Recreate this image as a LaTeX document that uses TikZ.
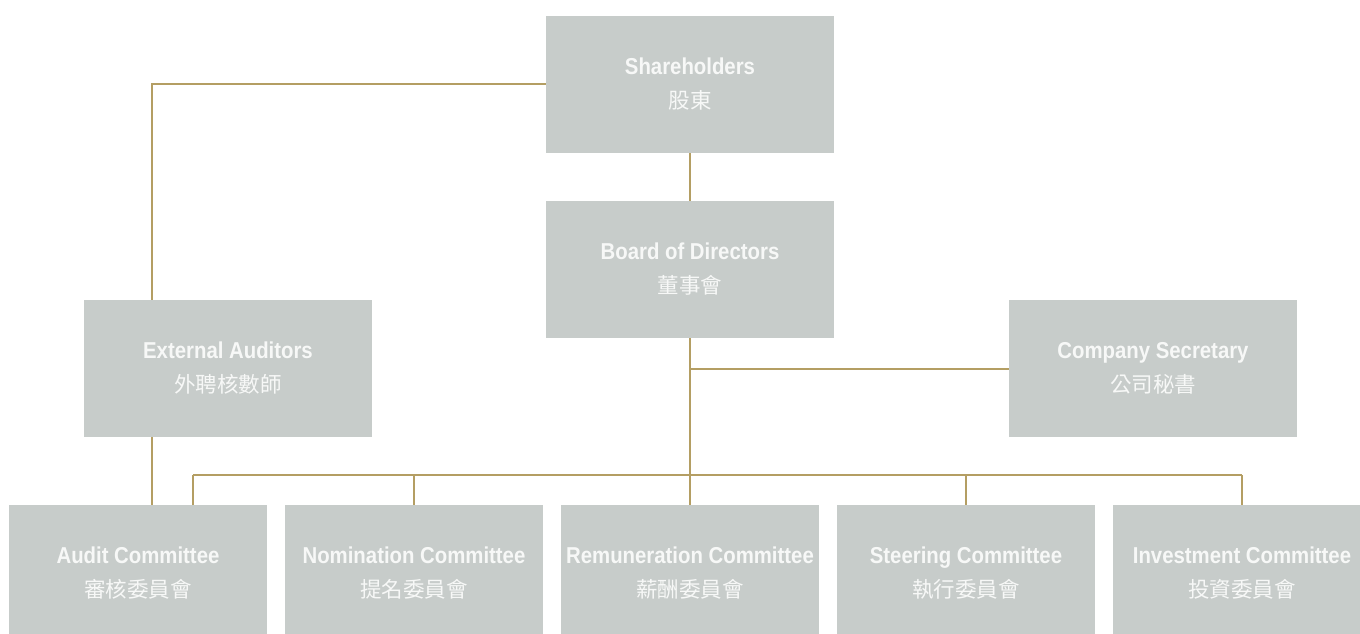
\documentclass[tikz,border=0pt]{standalone}
\usepackage{fontspec}
\setmainfont{Liberation Sans}[FakeStretch=0.885]
\newfontfamily\zhfont{Noto Sans CJK TC}
\definecolor{boxfill}{HTML}{C7CCCA}
\definecolor{gold}{HTML}{B49E63}
\definecolor{txt}{HTML}{F7F8F7}
\begin{document}
\begin{tikzpicture}[x=1pt,y=-1pt,
  orgbox/.style={fill=boxfill, draw=none, minimum width=288pt, minimum height=137pt,
    inner sep=0pt, align=center, text=txt, font=\fontsize{23}{35}\selectfont},
  combox/.style={orgbox, minimum width=258pt},
  conn/.style={draw=gold, line width=2pt}]
\useasboundingbox (0,0) rectangle (1360,633);
\clip (0,0) rectangle (1360,633);
\newcommand{\twoline}[2]{\raisebox{-1.5pt}{\begin{tabular}{@{}c@{}}\textbf{#1}\\[-1pt]{\zhfont\fontsize{21.5}{21.5}\selectfont #2}\end{tabular}}}
% boxes
\node[orgbox] (sh)  at (690,84.5)  {\twoline{Shareholders}{股東}};
\node[orgbox] (bd)  at (690,269.5) {\twoline{Board of Directors}{董事會}};
\node[orgbox] (ext) at (228,368.5) {\twoline{External Auditors}{外聘核數師}};
\node[orgbox] (sec) at (1153,368.5) {\twoline{Company Secretary}{公司秘書}};
\node[combox] (aud) at (138,573.5)  {\twoline{Audit Committee}{審核委員會}};
\node[combox] (nom) at (414,573.5)  {\twoline{Nomination Committee}{提名委員會}};
\node[combox] (rem) at (690,573.5)  {\twoline{Remuneration Committee}{薪酬委員會}};
\node[combox] (ste) at (966,573.5)  {\twoline{Steering Committee}{執行委員會}};
\node[combox] (inv) at (1242,573.5) {\twoline{Investment Committee}{投資委員會}};
% helper coordinates
\coordinate (shl) at ([yshift=0.5pt]sh.west);
\coordinate (extt) at ([xshift=68pt]ext.north west);
\coordinate (extb) at ([xshift=68pt]ext.south west);
\coordinate (bus) at (690,475);
\coordinate (busl) at (193,475);
\coordinate (busr) at (1242,475);
% connectors
\path[conn] (shl) -| (extt);
\path[conn] (extb) -- (extb |- aud.north);
\path[conn] (sh.south) -- (bd.north);
\path[conn] (bd.south) -- (bus);
\path[conn] (bd.south |- sec.west) -- (sec.west);
\path[conn] (busl) -- (busr);
\path[conn] (busl) -- (busl |- aud.north);
\path[conn] (bus -| nom.north) -- (nom.north);
\path[conn] (bus) -- (rem.north);
\path[conn] (bus -| ste.north) -- (ste.north);
\path[conn] (busr) -- (inv.north);
\end{tikzpicture}
\end{document}
